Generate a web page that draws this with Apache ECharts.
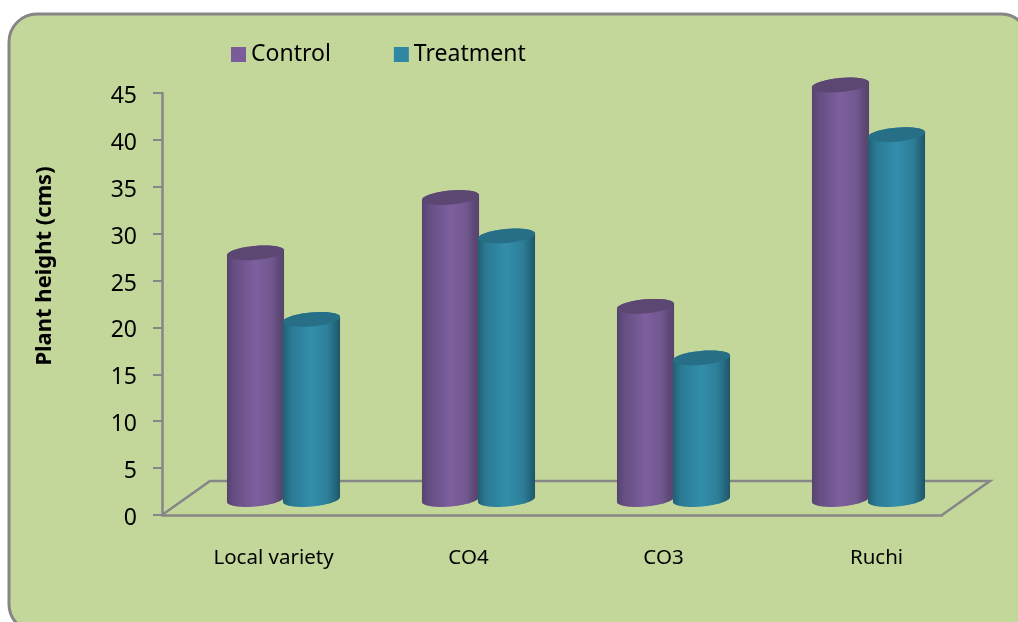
<!DOCTYPE html>
<html>
<head>
<meta charset="utf-8">
<style>html,body{margin:0;padding:0;background:#fff}#chart{width:1018px;height:622px}</style>
<script src="https://cdn.jsdelivr.net/npm/echarts@6/dist/echarts.min.js"></script>
</head>
<body>
<div id="chart"></div>
<script>
// Plant height per variety, in centimetres
const varieties = ['Local variety', 'CO4', 'CO3', 'Ruchi'];
const control = [26.3, 32.2, 20.6, 44.2];
const treatment = [19.2, 28.1, 15.1, 38.9];
const heightTicks = [0, 5, 10, 15, 20, 25, 30, 35, 40, 45];

const DEPTH_X = 48, DEPTH_Y = 34;      // oblique offset of the floor's back edge
const AXIS_GREY = '#868686';
const FONT = '"Noto Sans"';

// Points along a tilted ellipse between two angles (radians)
function arc(cx, cy, rx, ry, tilt, from, to) {
  const pts = [];
  for (let i = 0; i <= 40; i++) {
    const a = from + (to - from) * i / 40;
    const ex = rx * Math.cos(a), ey = ry * Math.sin(a);
    pts.push([cx + ex * Math.cos(tilt) - ey * Math.sin(tilt),
              cy + ex * Math.sin(tilt) + ey * Math.cos(tilt)]);
  }
  return pts;
}

// One cylinder standing mid-depth on the floor; neighbours overlap slightly
function cylinder(side, shade, lid) {
  return function (params, api) {
    const band = api.size([1, 0])[0];
    const rx = band * 0.147, ry = 7, tilt = -0.09;
    const cx = api.coord([api.value(0), 0])[0] + DEPTH_X / 2 + side * band * 0.1435;
    const yBase = api.coord([0, 0])[1] - DEPTH_Y / 2 + 1.5;
    const yTop = yBase - (api.coord([0, 0])[1] - api.coord([0, api.value(1)])[1]);
    const lower = arc(cx, yBase, rx, ry, tilt, 0, Math.PI);
    const upper = arc(cx, yTop, rx, ry, tilt, Math.PI, 2 * Math.PI);
    return {
      type: 'group',
      children: [
        { type: 'polygon', shape: { points: lower.concat(upper) },
          style: { fill: new echarts.graphic.LinearGradient(0, 0, 1, 0, shade) } },
        { type: 'polygon', shape: { points: arc(cx, yTop, rx, ry, tilt, 0, 2 * Math.PI) },
          style: { fill: lid } }
      ]
    };
  };
}

const purpleShade = [
  { offset: 0, color: '#56426e' }, { offset: 0.12, color: '#654e82' },
  { offset: 0.5, color: '#7d5f9e' }, { offset: 0.78, color: '#71578f' },
  { offset: 0.9, color: '#5f4979' }, { offset: 1, color: '#574369' }
];
const tealShade = [
  { offset: 0, color: '#215f74' }, { offset: 0.14, color: '#2a7a94' },
  { offset: 0.5, color: '#338eab' }, { offset: 0.78, color: '#2d7f99' },
  { offset: 0.9, color: '#256a80' }, { offset: 1, color: '#1f5566' }
];

const chart = echarts.init(document.getElementById('chart'), null, { renderer: 'canvas' });
chart.setOption({
  animation: false,
  backgroundColor: '#ffffff',
  textStyle: { fontFamily: FONT },
  graphic: [{
    type: 'rect', z: -10, silent: true,
    shape: { x: 9, y: 14, width: 1020, height: 618, r: 28 },
    style: { fill: '#c4d79b', stroke: AXIS_GREY, lineWidth: 3 }
  }],
  legend: {
    left: 226, top: 38, itemWidth: 15, itemHeight: 15, itemGap: 63,
    icon: 'rect', data: ['Control', 'Treatment'],
    textStyle: { fontSize: 23, color: '#000', fontFamily: FONT }
  },
  grid: { left: 162, right: 76, top: 93, bottom: 107 },
  xAxis: {
    type: 'category',
    data: varieties.map(function (name) {
      return { value: name, textStyle: { padding: [0, 0, 0, name === 'Ruchi' ? 64 : 28] } };
    }),
    axisLine: { lineStyle: { color: AXIS_GREY, width: 2.5 } },
    axisTick: { show: false },
    axisLabel: { fontSize: 20.5, color: '#000', margin: 33, fontFamily: FONT }
  },
  yAxis: {
    type: 'value', min: heightTicks[0], max: heightTicks[heightTicks.length - 1], interval: 5,
    name: 'Plant height (cms)', nameLocation: 'middle', nameRotate: 90, nameGap: 106,
    nameTextStyle: { fontSize: 22, fontWeight: 'bold', color: '#000', fontFamily: FONT, padding: [0, 0, 0, 76] },
    axisLine: { show: true, lineStyle: { color: AXIS_GREY, width: 2.5 } },
    axisTick: { show: true, length: 9, lineStyle: { color: AXIS_GREY, width: 2 } },
    axisLabel: {
      fontSize: 23, color: '#000', margin: 25, fontFamily: FONT,
      formatter: '{n|{value}}',
      rich: { n: { fontSize: 23, color: '#000', fontFamily: FONT, padding: [7, 0, 0, 0] } }
    },
    splitLine: { show: false }
  },
  series: [
    {
      name: 'floor', type: 'custom', coordinateSystem: 'cartesian2d', silent: true, clip: false, z: 1,
      data: [[0, 0]],
      renderItem: function (params, api) {
        const c = params.coordSys;
        const yb = c.y + c.height, xr = c.x + c.width;
        return {
          type: 'polyline',
          shape: { points: [[c.x, yb], [c.x + DEPTH_X, yb - DEPTH_Y], [xr + DEPTH_X, yb - DEPTH_Y], [xr, yb]] },
          style: { fill: 'none', stroke: AXIS_GREY, lineWidth: 2.5 }
        };
      }
    },
    {
      name: 'Control', type: 'custom', coordinateSystem: 'cartesian2d', clip: false, z: 2,
      itemStyle: { color: '#7a5c9a' },
      data: control.map(function (v, i) { return [i, v]; }),
      encode: { x: 0, y: 1 },
      renderItem: cylinder(-1, purpleShade, '#5c4672')
    },
    {
      name: 'Treatment', type: 'custom', coordinateSystem: 'cartesian2d', clip: false, z: 3,
      itemStyle: { color: '#2f87a3' },
      data: treatment.map(function (v, i) { return [i, v]; }),
      encode: { x: 0, y: 1 },
      renderItem: cylinder(1, tealShade, '#276f87')
    }
  ]
});
</script>
</body>
</html>
